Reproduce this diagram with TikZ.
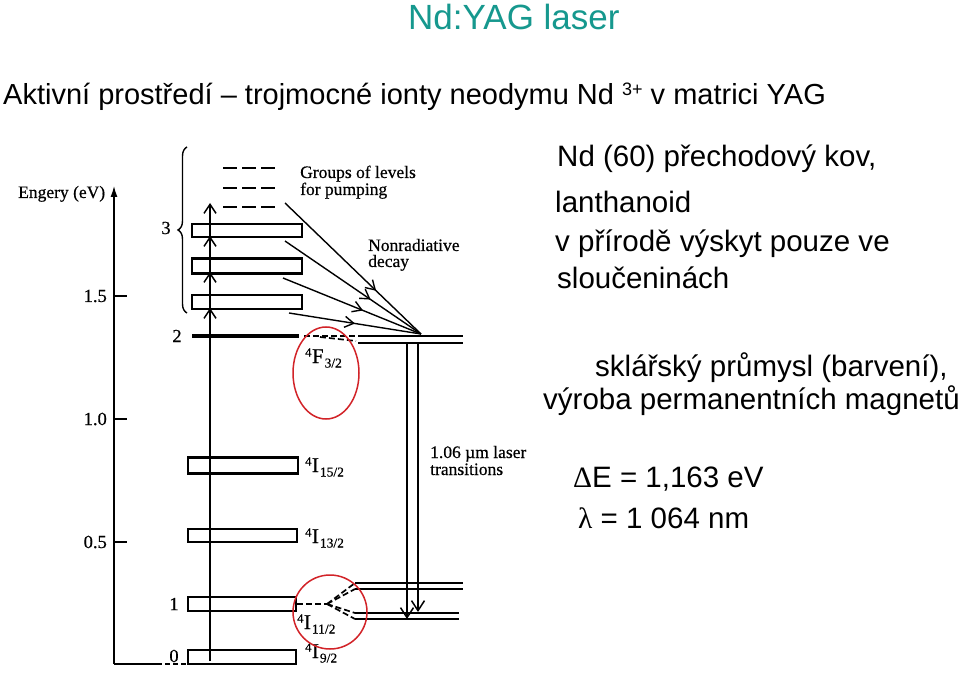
\documentclass[tikz,border=0pt]{standalone}
\usepackage{fontspec}
\setmainfont[FakeBold=0.5]{Liberation Serif}
\newfontfamily\arialf{Liberation Sans}
\newfontfamily\greekf{Liberation Serif}
\usetikzlibrary{arrows.meta,decorations.pathreplacing,decorations.markings}
\definecolor{titleteal}{RGB}{22,152,142}
\definecolor{ellred}{RGB}{210,35,40}
\newcommand\termsym[3]{\raisebox{6.5pt}{\fontsize{12.5}{12.5}\selectfont #1}\kern0.5pt#2\kern1pt\raisebox{-4.5pt}{\fontsize{13.5}{13.5}\selectfont #3}}
\begin{document}
\begin{tikzpicture}[x=1pt,y=-1pt,
  levelbox/.style={draw, line width=2.2pt, rectangle, minimum width=110pt, minimum height=14pt, inner sep=0pt},
  lbl/.style={font=\fontsize{17.5}{17.5}\selectfont, inner sep=0pt},
  ticklbl/.style={font=\fontsize{18.5}{18.5}\selectfont, inner sep=0pt},
  termlbl/.style={font=\fontsize{21}{21}\selectfont, inner sep=0pt, anchor=base west},
  rtxt/.style={font=\arialf\fontsize{29.5}{29.5}\selectfont, inner sep=0pt, anchor=base west},
  barb/.style={-{Straight Barb[length=9pt,width=12pt,line width=1.5pt]}},
  thinline/.style={line width=1.4pt},
  midarrow/.style={postaction={decorate}, decoration={markings, mark=at position #1 with {\arrow{Straight Barb[length=9pt,width=11pt,line width=1.4pt]}}}},
  pumpdash/.style={line width=2.6pt, dash pattern=on 14pt off 5pt},
  lvldash/.style={line width=1.7pt, dash pattern=on 6pt off 3pt},
  ring/.style={ellred, line width=1.5pt}
]
\useasboundingbox (0,0) rectangle (960,684);
\fill[white] (0,0) rectangle (960,684);

% ---- title and subtitle
\node[font=\arialf\fontsize{35}{35}\selectfont, text=titleteal, inner sep=0pt, anchor=base west] (title) at (408,30) {Nd:YAG laser};
\node[font=\arialf\fontsize{29}{29}\selectfont, inner sep=0pt, anchor=base west] (subtitle) at (3,105) {Aktivní prostředí – trojmocné ionty neodymu Nd \raisebox{9pt}{\fontsize{18}{18}\selectfont 3+} v matrici YAG};

% ---- energy axis
\coordinate (ax0) at (114,664);
\coordinate (axtop) at (114,186);
\coordinate (axb1) at (157,664);
\coordinate (axb2) at (188,664);
\draw[line width=1.3pt, -{Latex[length=11pt,width=7pt]}] (ax0) -- (axtop);
\draw[line width=1.3pt] (ax0) -- (axb1);
\draw[line width=1.3pt, dash pattern=on 5pt off 3pt] (axb1) -- (axb2);
\node[lbl, anchor=base west] (eaxis) at (18,198) {Engery (eV)};
\foreach \y/\t/\n in {296/1.5/ta, 419/1.0/tb, 542/0.5/tc}{
  \coordinate (\n1) at (114,\y);
  \coordinate (\n2) at (127,\y);
  \draw[line width=1.3pt] (\n1) -- (\n2);
  \node[ticklbl, anchor=east] (\n l) at (107,\y) {\t};
}

% ---- pumping levels (group 3)
\node[levelbox, minimum height=13pt] (boxA) at (247,230.5) {};
\node[levelbox, minimum height=15pt] (boxB) at (247,266) {};
\node[levelbox] (boxC) at (247,302) {};
\foreach \y/\n in {168/da, 188/db, 207/dc}{
  \coordinate (\n1) at (223,\y);
  \coordinate (\n2) at (276,\y);
  \draw[pumpdash] (\n1) -- (\n2);
}
\coordinate (br1) at (187,313);
\coordinate (br2) at (187,147);
\draw[line width=1.4pt, decorate, decoration={brace, amplitude=9pt}] (br1) -- (br2);
\node[ticklbl] (n3) at (166,228) {3};

% ---- level 2 (4F3/2)
\coordinate (l2a) at (192,336);
\coordinate (l2b) at (299,336);
\draw[line width=4.2pt] (l2a) -- (l2b);
\node[ticklbl] (n2) at (177,336) {2};
\coordinate (l2c) at (304,336);
\coordinate (l2d) at (356,336);
\coordinate (l2e) at (320,337);
\coordinate (l2f) at (356,341);
\draw[lvldash] (l2c) -- (l2d);
\draw[lvldash] (l2e) -- (l2f);
\coordinate (ua1) at (358,336); \coordinate (ua2) at (463,336);
\coordinate (ub1) at (358,343); \coordinate (ub2) at (463,343);
\draw[line width=2.6pt] (ua1) -- (ua2);
\draw[line width=2.6pt] (ub1) -- (ub2);
\node[termlbl] (tF) at (305,363) {\termsym{4}{F}{3/2}};

% ---- lower levels
\node[levelbox, minimum height=16pt] (box15) at (243,465.5) {};
\node[levelbox, minimum width=109pt, minimum height=13pt] (box13) at (242.5,535.5) {};
\node[levelbox, minimum width=108pt] (box11) at (242,604) {};
\node[levelbox, minimum width=108pt] (box9) at (242,657) {};
\node[termlbl] (t15) at (305,472) {\termsym{4}{I}{15/2}};
\node[termlbl] (t13) at (305,543) {\termsym{4}{I}{13/2}};
\node[termlbl] (t11) at (297,629) {\termsym{4}{I}{11/2}};
\node[termlbl] (t9) at (305,658) {\termsym{4}{I}{9/2}};
\node[ticklbl] (n1) at (174,604) {1};
\node[ticklbl] (n0) at (174,656) {0};

% ---- pump arrow
\coordinate (pbot) at (210,661);
\coordinate (pc) at (210,308);
\coordinate (pb) at (210,272);
\coordinate (pa) at (210,236);
\coordinate (ptop) at (210,203);
\draw[thinline, barb] (pbot) -- (pc);
\draw[thinline, barb] (pc) -- (pb);
\draw[thinline, barb] (pb) -- (pa);
\draw[thinline, barb] (pa) -- (ptop);

% ---- nonradiative decay
\coordinate (conv) at (421,334);
\coordinate (d1) at (285,203);
\coordinate (d2) at (285,241);
\coordinate (d3) at (283,278);
\coordinate (d4) at (289,313);
\draw[thinline, midarrow=0.67] (d1) -- (conv);
\draw[thinline, midarrow=0.63] (d2) -- (conv);
\draw[thinline, midarrow=0.58] (d3) -- (conv);
\draw[thinline, midarrow=0.5] (d4) -- (conv);
\node[lbl, anchor=base west] (grp1) at (300,178) {Groups of levels};
\node[lbl, anchor=base west] (grp2) at (300,195) {for pumping};
\node[lbl, anchor=base west] (nr1) at (368,251) {Nonradiative};
\node[lbl, anchor=base west] (nr2) at (368,267) {decay};

% ---- 4I11/2 sublevels
\coordinate (la1) at (355,583); \coordinate (la2) at (463,583);
\coordinate (lb1) at (355,589); \coordinate (lb2) at (463,589);
\coordinate (lc1) at (355,613); \coordinate (lc2) at (459,613);
\coordinate (ld1) at (355,619); \coordinate (ld2) at (459,619);
\foreach \a/\b in {la1/la2, lb1/lb2, lc1/lc2, ld1/ld2}{
  \draw[line width=2.5pt] (\a) -- (\b);
}
\coordinate (s11) at (297,604);
\coordinate (sp) at (327,604);
\draw[lvldash] (s11) -- (sp);
\foreach \t in {la1, lb1, lc1, ld1}{
  \draw[lvldash] (sp) -- (\t);
}

% ---- laser transitions
\coordinate (t1s) at (407,343);
\coordinate (t1e) at (407,619);
\coordinate (t2s) at (418,343);
\coordinate (t2e) at (418,612);
\draw[thinline, -{Straight Barb[length=10pt,width=13pt,line width=1.5pt]}] (t1s) -- (t1e);
\draw[thinline, -{Straight Barb[length=10pt,width=13pt,line width=1.5pt]}] (t2s) -- (t2e);
\node[lbl, anchor=base west] (lt1) at (430,458) {1.06 µm laser};
\node[lbl, anchor=base west] (lt2) at (430,475) {transitions};

% ---- red rings
\draw[ring] (326,373) ellipse [x radius=33, y radius=46];
\draw[ring] (330,612) circle [radius=37];

% ---- right-hand text
\node[rtxt] (r1) at (557,167) {Nd (60) přechodový kov,};
\node[rtxt] (r2) at (555,213) {lanthanoid};
\node[rtxt] (r3) at (555,252) {v přírodě výskyt pouze ve};
\node[rtxt] (r4) at (557,289) {sloučeninách};
\node[rtxt] (r5) at (595,376) {sklářský průmysl (barvení),};
\node[rtxt] (r6) at (543,409) {výroba permanentních magnetů};
\node[rtxt] (r7) at (573,487) {{\greekf Δ}E = 1,163 eV};
\node[rtxt] (r8) at (578,528) {{\greekf λ} = 1 064 nm};
\end{tikzpicture}
\end{document}
